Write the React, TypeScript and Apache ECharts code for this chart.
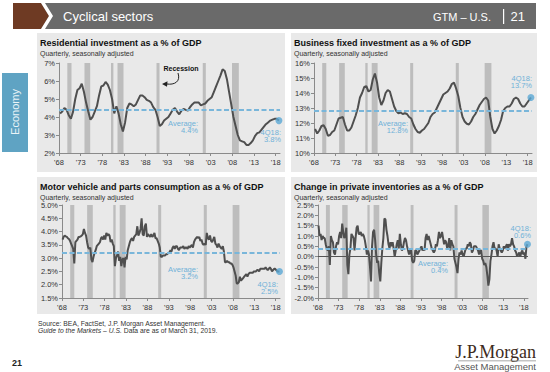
import React, { useEffect, useRef } from 'react';
import * as echarts from 'echarts';

// ---------- data ----------
const yearTickLabels = ["'68", "'73", "'78", "'83", "'88", "'93", "'98", "'03", "'08", "'13", "'18"];
// recession periods, in years since 1968
const recessions: [number, number][] = [
  [1.92, 2.88], [5.88, 7.2], [12.0, 12.55], [13.5, 14.88], [22.5, 23.2], [33.17, 33.88], [39.92, 41.5],
];

// half-yearly, 1968H1 .. 2018H2
const residential = [
  4.2, 4.3, 4.5, 4.4, 4.1, 3.9, 4.3, 5.0, 5.5, 5.6,
  5.85, 5.4, 4.8, 4.3, 3.85, 4.0, 4.3, 4.6, 5.2, 5.7,
  5.75, 5.95, 5.8, 5.5, 5.0, 4.2, 4.6, 4.2, 3.6, 3.2,
  3.7, 4.5, 4.75, 4.7, 4.6, 4.7, 4.95, 5.2, 5.2, 5.1,
  4.95, 4.9, 4.8, 4.55, 4.4, 4.0, 3.5, 3.6, 3.8, 3.9,
  4.0, 4.2, 4.4, 4.5, 4.3, 4.15, 4.35, 4.45, 4.4, 4.35,
  4.55, 4.7, 4.8, 4.8, 4.8, 4.65, 4.7, 4.75, 4.9, 5.0,
  5.1, 5.4, 5.7, 6.0, 6.3, 6.65, 6.55, 6.1, 5.4, 4.7,
  4.0, 3.5, 3.0, 2.7, 2.65, 2.6, 2.45, 2.45, 2.55, 2.7,
  2.95, 3.1, 3.15, 3.3, 3.45, 3.6, 3.7, 3.8, 3.85, 3.9,
  3.9, 3.8,
];

const businessFixed = [
  11.6, 11.3, 11.5, 11.8, 11.85, 11.6, 11.15, 11.2, 11.4, 11.5,
  11.9, 12.3, 12.35, 12.4, 11.9, 11.5, 11.5, 11.7, 12.1, 12.5,
  13.0, 13.7, 14.0, 14.4, 14.45, 14.1, 14.2, 14.9, 15.3, 14.7,
  13.7, 13.2, 13.5, 14.0, 14.2, 14.1, 13.6, 13.1, 12.8, 12.65,
  12.7, 12.6, 12.65, 12.6, 12.4, 12.3, 11.9, 11.6, 11.4, 11.35,
  11.5, 11.6, 11.8, 12.0, 12.4, 12.6, 12.7, 13.0, 13.3, 13.6,
  13.9, 14.0, 14.1, 14.3, 14.6, 14.7, 14.3, 13.8, 13.0, 12.4,
  12.1, 11.95, 11.9, 12.1, 12.4, 12.6, 12.9, 13.2, 13.4, 13.6,
  13.7, 13.5, 12.4, 11.6, 11.3, 11.5, 11.8, 12.2, 12.8, 13.0,
  13.1, 13.1, 13.3, 13.6, 13.7, 13.6, 13.3, 13.1, 13.1, 13.3,
  13.5, 13.7,
];

// quarterly, 1968Q1 .. 2018Q4
const motorVehicles = [
  3.70, 3.80, 3.85, 3.82, 3.80, 3.75, 3.72, 3.65, 3.55, 3.45, 3.35, 2.80,
  3.60, 3.65, 3.70, 3.80, 3.80, 3.82, 3.85, 3.90, 4.10, 3.95, 3.85, 3.60,
  3.40, 3.35, 3.40, 2.95, 2.85, 3.05, 3.20, 3.30, 3.45, 3.50, 3.55, 3.60,
  3.75, 3.80, 3.70, 3.85, 3.70, 3.95, 3.85, 3.90, 3.85, 3.60, 3.70, 3.55,
  3.45, 2.70, 3.00, 3.10, 3.25, 2.90, 3.05, 2.70, 2.95, 3.00, 2.65, 3.05,
  2.95, 3.30, 3.45, 3.60, 3.70, 3.75, 3.65, 3.80, 3.85, 3.90, 4.20, 3.85,
  3.95, 4.10, 4.50, 3.90, 3.85, 4.20, 4.30, 3.80, 3.90, 3.85, 3.80, 3.90,
  3.80, 3.85, 3.95, 3.75, 3.75, 3.65, 3.55, 3.40, 3.05, 3.05, 3.10, 3.10,
  3.10, 3.15, 3.15, 3.20, 3.20, 3.30, 3.25, 3.40, 3.45, 3.35, 3.45, 3.45,
  3.35, 3.30, 3.40, 3.40, 3.40, 3.45, 3.35, 3.40, 3.40, 3.35, 3.45, 3.40,
  3.45, 3.50, 3.40, 3.60, 3.70, 3.75, 3.80, 3.75, 3.80, 3.65, 3.70, 3.55,
  3.50, 3.55, 3.50, 3.95, 3.75, 3.70, 3.85, 3.65, 3.60, 3.70, 3.80, 3.55,
  3.50, 3.40, 3.55, 3.45, 3.40, 3.35, 3.45, 3.25, 2.85, 2.85, 2.90, 2.85,
  2.85, 2.80, 2.80, 2.75, 2.65, 2.50, 2.35, 2.05, 2.05, 2.10, 2.30, 2.15,
  2.20, 2.25, 2.30, 2.35, 2.40, 2.30, 2.40, 2.45, 2.45, 2.45, 2.45, 2.50,
  2.50, 2.50, 2.55, 2.55, 2.50, 2.60, 2.60, 2.60, 2.60, 2.60, 2.65, 2.60,
  2.55, 2.60, 2.65, 2.60, 2.50, 2.55, 2.60, 2.60, 2.55, 2.50, 2.50, 2.50,
];

const inventories = [
  1.5, 1.0, 1.1, 0.8, 1.0, 0.9, 0.9, 0.6, 0.4, 0.3, 0.5, -0.4,
  1.0, 0.8, 0.7, 0.2, 0.1, 0.5, 0.7, 0.6, 1.0, 1.2, 0.9, 1.6,
  1.2, 0.9, 1.0, 1.4, -0.4, -0.85, 0.1, 0.4, 1.1, 1.0, 0.9, 0.3,
  0.9, 1.4, 1.5, 1.1, 1.1, 1.2, 1.0, 1.1, 1.0, 0.8, 0.5, 0.1,
  0.3, 0.1, -0.5, -1.2, 0.5, 1.2, 1.3, 0.8, 0.1, -0.3, -0.2, -0.8,
  -1.2, -0.3, 0.4, 0.9, 1.85, 1.8, 1.3, 1.0, 0.6, 0.4, 0.7, 0.5,
  0.7, 0.4, 0.0, 0.3, 0.6, 0.8, 0.4, 1.1, 0.6, 0.3, 0.4, 0.7,
  0.9, 0.8, 0.5, 0.3, 0.1, 0.3, 0.3, -0.2, -0.3, -0.2, 0.3, 0.3,
  0.1, 0.2, 0.3, 0.4, 0.5, 0.3, 0.4, 0.3, 0.9, 1.1, 0.8, 1.0,
  0.8, 0.6, 0.4, 0.3, 0.2, 0.3, 0.6, 0.5, 0.8, 1.2, 0.9, 1.0,
  1.2, 0.9, 0.6, 0.8, 0.7, 0.4, 0.5, 0.9, 0.3, 0.8, 0.6, 0.5,
  -0.1, -0.3, -0.5, -0.8, -0.1, 0.2, 0.1, 0.3, 0.1, 0.0, 0.2, 0.4,
  0.4, 0.6, 0.5, 0.7, 0.6, 0.2, 0.3, 0.5, 0.5, 0.5, 0.4, 0.3,
  0.1, 0.3, 0.3, -0.1, -0.2, -0.4, -0.3, -0.5, -0.9, -1.4, -1.1, -0.2,
  0.1, 0.5, 0.7, 0.4, 0.4, 0.3, 0.0, 0.6, 0.4, 0.3, 0.2, 0.3,
  0.5, 0.4, 0.5, 0.6, 0.3, 0.6, 0.5, 0.6, 0.9, 0.6, 0.5, 0.3,
  0.2, 0.0, 0.1, 0.2, 0.0, 0.2, 0.3, 0.1, 0.2, -0.1, 0.5, 0.6,
];

const averages = [4.4, 12.8, 3.2, 0.4];
const averageLabels = ['4.4%', '12.8%', '3.2%', '0.4%'];
const latestLabels = ['3.8%', '13.7%', '2.5%', '0.6%'];
const titles = [
  'Residential investment as a % of GDP',
  'Business fixed investment as a % of GDP',
  'Motor vehicle and parts consumption as a % of GDP',
  'Change in private inventories as a % of GDP',
];

// ---------- styling ----------
const FONT = 'Liberation Sans, Arial, sans-serif';
const BLUE_TXT = '#6fb1d8';
const BLUE_LINE = '#79b6da';
const DOT = '#5aa8d4';
const LINE = '#4f4f4f';
const REC = '#bdbdbd';
const AXIS = '#8a8a8a';
const PANEL_BG = '#e9e9e9';

const halfYear = (arr: number[]) => arr.map((v, i) => [i * 0.5 + 0.25, v]);
const quarterly = (arr: number[]) => arr.map((v, i) => [i * 0.25 + 0.125, v]);

const tickValues = yearTickLabels.map((_, k) => k * 5);

const panels = [
  { grid: { left: 59, top: 63, width: 221, height: 90 }, min: 2, max: 7, interval: 1, dec: 0, data: halfYear(residential) },
  { grid: { left: 314, top: 63, width: 218, height: 90 }, min: 10, max: 16, interval: 1, dec: 0, data: halfYear(businessFixed) },
  { grid: { left: 62, top: 205, width: 218, height: 93 }, min: 1.5, max: 5, interval: 0.5, dec: 1, data: quarterly(motorVehicles) },
  { grid: { left: 318, top: 205, width: 210, height: 93 }, min: -2, max: 2.5, interval: 0.5, dec: 1, data: quarterly(inventories) },
];

const panelBoxes = [
  { x: 37, y: 33, w: 248, h: 139 },
  { x: 291, y: 33, w: 246, h: 139 },
  { x: 37, y: 177, w: 248, h: 137 },
  { x: 291, y: 177, w: 246, h: 137 },
];
const avgPos = [
  { x: 198, y: 123 },
  { x: 408, y: 123 },
  { x: 198, y: 269 },
  { x: 448, y: 263 },
];
const latestPos = [
  { x: 281, y: 132 },
  { x: 532, y: 78 },
  { x: 278, y: 284 },
  { x: 531, y: 228 },
];

function txt(text: string, x: number, y: number, font: string, fill: string, align = 'left', extra: any = {}) {
  return {
    type: 'text', x, y, z: 10, silent: true,
    style: { text, font, fill, textAlign: align, textVerticalAlign: 'middle' },
    ...extra,
  };
}

function buildOption() {
  const grids: any[] = [];
  const xAxes: any[] = [];
  const yAxes: any[] = [];
  const series: any[] = [];
  panels.forEach((p, i) => {
    grids.push({ ...p.grid, containLabel: false });
    xAxes.push({
      gridIndex: i, type: 'value', min: 0, max: 51, interval: 5,
      axisLine: { onZero: false, lineStyle: { color: AXIS, width: 1 } },
      axisTick: { show: true, length: 3, customValues: tickValues, lineStyle: { color: AXIS } },
      axisLabel: {
        customValues: tickValues, fontSize: 7.5, color: '#333', margin: 5, fontFamily: FONT,
        formatter: (v: number) => yearTickLabels[Math.round(v / 5)] ?? '',
      },
      splitLine: { show: false },
    });
    yAxes.push({
      gridIndex: i, type: 'value', min: p.min, max: p.max, interval: p.interval,
      axisLine: { show: true, lineStyle: { color: AXIS, width: 1 } },
      axisTick: { show: true, length: 3, lineStyle: { color: AXIS } },
      axisLabel: {
        fontSize: 7.5, color: '#333', margin: 4, fontFamily: FONT,
        formatter: (v: number) => v.toFixed(p.dec) + '%',
      },
      splitLine: { show: false },
    });
    series.push({
      type: 'custom', xAxisIndex: i, yAxisIndex: i, z: 1, silent: true,
      data: recessions,
      encode: { x: [0, 1] },
      renderItem: (params: any, api: any) => {
        const cs = params.coordSys;
        const a = api.coord([api.value(0), p.min]);
        const b = api.coord([api.value(1), p.min]);
        return {
          type: 'rect',
          shape: { x: a[0], y: cs.y, width: b[0] - a[0], height: cs.height },
          style: { fill: REC },
        };
      },
    });
    const markData: any[] = [
      { yAxis: averages[i], lineStyle: { color: BLUE_LINE, width: 2, type: [5, 2.5] } },
    ];
    if (p.min < 0) {
      markData.push({ yAxis: 0, lineStyle: { color: '#555', width: 1, type: 'solid' } });
    }
    series.push({
      type: 'line', xAxisIndex: i, yAxisIndex: i, z: 3, silent: true,
      data: p.data, showSymbol: false, symbol: 'none',
      lineStyle: { color: LINE, width: 2 },
      markLine: { symbol: ['none', 'none'], silent: true, label: { show: false }, data: markData },
    });
    series.push({
      type: 'scatter', xAxisIndex: i, yAxisIndex: i, z: 5, silent: true,
      data: [p.data[p.data.length - 1]], symbolSize: 7,
      itemStyle: { color: DOT },
    });
  });

  const g: any[] = [];
  // header
  g.push({ type: 'rect', z: -5, shape: { x: 40, y: 3, width: 496, height: 26 }, style: { fill: '#6a6a6a' } });
  g.push({ type: 'polygon', z: -4, shape: { points: [[13, 3], [41, 3], [49, 16], [41, 29], [13, 29]] }, style: { fill: '#6e3a23' } });
  g.push({ type: 'polygon', z: -4, shape: { points: [[41, 3], [45, 3], [53, 16], [45, 29], [41, 29], [49, 16]] }, style: { fill: '#ffffff' } });
  g.push(txt('Cyclical sectors', 63, 16, `13px "Liberation Sans Narrow", ${FONT}`, '#ffffff'));
  g.push(txt('GTM – U.S.', 491, 17, `11px "Liberation Sans Narrow", ${FONT}`, '#ffffff', 'right'));
  g.push({ type: 'rect', z: 10, shape: { x: 503, y: 9, width: 1.2, height: 15 }, style: { fill: '#ffffff' } });
  g.push(txt('21', 525, 16, `13px "Liberation Sans Narrow", ${FONT}`, '#ffffff', 'right'));
  // side tab
  g.push({ type: 'rect', z: -5, shape: { x: 2, y: 73, width: 26, height: 79 }, style: { fill: '#5fa3c3' } });
  g.push(txt('Economy', 15, 112, `11px ${FONT}`, '#eaf4f8', 'center', { rotation: Math.PI / 2 }));
  // panels
  panelBoxes.forEach((b, i) => {
    g.push({ type: 'rect', z: -10, shape: { x: b.x, y: b.y, width: b.w, height: b.h }, style: { fill: PANEL_BG } });
    g.push(txt(titles[i], b.x + 3, b.y + 10, `bold 9px ${FONT}`, '#111'));
    g.push(txt('Quarterly, seasonally adjusted', b.x + 3, b.y + 20, `7px ${FONT}`, '#333'));
    const a = avgPos[i];
    g.push(txt('Average:', a.x, a.y, `7.5px ${FONT}`, BLUE_TXT, 'right'));
    g.push(txt(averageLabels[i], a.x, a.y + 7.5, `7.5px ${FONT}`, BLUE_TXT, 'right'));
    const l = latestPos[i];
    g.push(txt('4Q18:', l.x, l.y, `7.5px ${FONT}`, BLUE_TXT, 'right'));
    g.push(txt(latestLabels[i], l.x, l.y + 7.5, `7.5px ${FONT}`, BLUE_TXT, 'right'));
  });
  // recession annotation
  g.push(txt('Recession', 181, 68, `bold 7px ${FONT}`, '#111', 'center'));
  g.push({
    type: 'bezierCurve', z: 10, silent: true,
    shape: { x1: 178, y1: 73, cpx1: 181, cpy1: 82, cpx2: 174, cpy2: 85, x2: 167, y2: 84 },
    style: { stroke: '#222', lineWidth: 1, fill: 'none' },
  });
  g.push({ type: 'polygon', z: 10, silent: true, shape: { points: [[162, 84], [167.5, 81.3], [167, 86.7]] }, style: { fill: '#222' } });
  // footer
  g.push(txt('Source: BEA, FactSet, J.P. Morgan Asset Management.', 38, 323, `6.8px ${FONT}`, '#333'));
  g.push({
    type: 'text', x: 38, y: 330.5, z: 10, silent: true,
    style: {
      text: '{i|Guide to the Markets – U.S.}{n| Data are as of March 31, 2019.}',
      textVerticalAlign: 'middle',
      rich: {
        i: { fontStyle: 'italic', fontSize: 6.8, fontFamily: FONT, fill: '#333' },
        n: { fontSize: 6.8, fontFamily: FONT, fill: '#333' },
      },
    },
  });
  g.push(txt('21', 12, 363, `bold 9px ${FONT}`, '#222'));
  g.push(txt('J.P.Morgan', 536, 352, `18px "Liberation Serif", "DejaVu Serif", serif`, '#3d2b20', 'right'));
  g.push({ type: 'rect', z: 10, shape: { x: 458, y: 360.5, width: 78, height: 0.8 }, style: { fill: '#8a8a8a' } });
  g.push(txt('Asset Management', 536, 366, `9.5px ${FONT}`, '#555', 'right'));

  return {
    animation: false,
    backgroundColor: '#ffffff',
    textStyle: { fontFamily: FONT },
    grid: grids,
    xAxis: xAxes,
    yAxis: yAxes,
    series,
    graphic: { elements: g },
  };
}

export default function App() {
  const ref = useRef<HTMLDivElement>(null);
  useEffect(() => {
    if (!ref.current) return;
    const chart = echarts.init(ref.current, undefined, { renderer: 'svg' });
    chart.setOption(buildOption() as any);
    return () => chart.dispose();
  }, []);
  return (
    <div
      ref={ref}
      style={{ position: 'fixed', left: 0, top: 0, width: 550, height: 372, background: '#fff' }}
    />
  );
}
